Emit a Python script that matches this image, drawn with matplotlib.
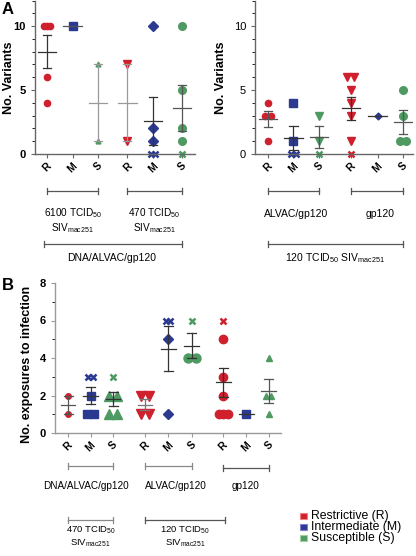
import matplotlib
matplotlib.use("Agg")
import matplotlib.pyplot as plt
from matplotlib.ticker import MultipleLocator
from matplotlib.patches import Rectangle
import numpy as np

plt.rcParams['font.family'] = ['Liberation Sans', 'DejaVu Sans']
plt.rcParams['mathtext.fontset'] = 'custom'
plt.rcParams['mathtext.rm'] = 'Liberation Sans'
plt.rcParams['mathtext.it'] = 'Liberation Sans:italic'
plt.rcParams['mathtext.bf'] = 'Liberation Sans:bold'

RED = '#d0202e'
BLUE = '#2b3990'
GREEN = '#4e9a62'

cats = ['R', 'M', 'S']

# Panel A left: number of variants (filled markers) and zero-variant animals (x)
a6100_r = [10, 10, 10, 6, 4]
a6100_m = [10]
a6100_s = [7, 1]
a470_r = [7, 1]
a470_m = [10, 2, 1]
a470_m_x = [0, 0]
a470_s = [10, 5, 2, 1]
a470_s_x = [0]

# Panel A right
alv_r = [4, 3, 3, 1]
alv_m = [4, 1]
alv_m_x = [0, 0]
alv_s = [3, 1]
alv_s_x = [0]
gp_r = [6, 6, 5, 4, 3, 1]
gp_r_x = [0]
gp_m = [3]
gp_s = [5, 3, 1, 1]

# Panel B: exposures to infection
b_dna_r = [2, 1]
b_dna_m = [2, 1, 1]
b_dna_m_x = [3, 3]
b_dna_s = [2, 2, 1, 1]
b_dna_s_x = [3]
b_alv_r = [2, 2, 1, 1]
b_alv_m = [5, 1]
b_alv_m_x = [6, 6]
b_alv_s = [4, 4]
b_alv_s_x = [6]
b_gp_r = [5, 3, 2, 1, 1, 1]
b_gp_r_x = [6]
b_gp_m = [1]
b_gp_s = [4, 2, 2, 1]

legend_labels = ['Restrictive (R)', 'Intermediate (M)', 'Susceptible (S)']

fig = plt.figure(figsize=(4.16, 5.56), dpi=100)


def draw_group(ax, pos, vals, xvals, color, marker, ms, ecol, upx, mw=0.36, cw=0.16):
    allv = np.array(vals + xvals, dtype=float)
    n = len(allv)
    mean = allv.mean()
    # points, spread sideways when values repeat
    for group, mk, size in ((vals, marker, ms), (xvals, 'x', 4)):
        arr = np.array(group, dtype=float)
        for v in np.unique(arr):
            k = int((arr == v).sum())
            step = size * 1.39 * 0.85 / upx
            if k >= 3:
                step *= 0.65
            offs = (np.arange(k) - (k - 1) / 2) * step
            if mk == 'x':
                ax.plot(pos + offs, [v] * k, 'x', color=color, ms=size, mew=1.8,
                        clip_on=False, zorder=2)
            else:
                ax.plot(pos + offs, [v] * k, marker=mk, ls='none', color=color,
                        ms=size, mec=color, clip_on=False, zorder=2)
    ax.plot([pos - mw, pos + mw], [mean, mean], color=ecol, lw=0.9, zorder=3)
    if n > 1:
        sem = allv.std(ddof=1) / np.sqrt(n)
        ax.plot([pos, pos], [mean - sem, mean + sem], color=ecol, lw=0.9, zorder=3)
        for y in (mean - sem, mean + sem):
            ax.plot([pos - cw, pos + cw], [y, y], color=ecol, lw=0.9, zorder=3)


def style_axis(ax, positions, spine_col, major, minor):
    for s in ('top', 'right'):
        ax.spines[s].set_visible(False)
    for s in ('left', 'bottom'):
        ax.spines[s].set_color(spine_col)
        ax.spines[s].set_linewidth(1.0)
    ax.yaxis.set_major_locator(MultipleLocator(major))
    ax.yaxis.set_minor_locator(MultipleLocator(minor))
    ax.set_xticks(positions)
    ax.set_xticklabels(cats * (len(positions) // 3), rotation=45, ha='center',
                       fontsize=7.5, fontweight='bold')
    ax.tick_params(axis='both', colors=spine_col, labelcolor='black', width=0.8)
    ax.tick_params(axis='y', which='major', length=3, labelsize=8)
    ax.tick_params(axis='y', which='minor', length=2)
    ax.tick_params(axis='x', length=3, pad=2)


def bracket(ax, x0, x1, y, col='#555555'):
    tr = ax.get_xaxis_transform()
    ax.plot([x0, x1], [y, y], color=col, lw=0.9, transform=tr, clip_on=False)
    for x in (x0, x1):
        ax.plot([x, x], [y - 0.02, y + 0.02], color=col, lw=0.9, transform=tr,
                clip_on=False)


def label(ax, x, y, s, size=7.5):
    ax.text(x, y, s, transform=ax.get_xaxis_transform(), ha='center', va='center',
            fontsize=size)


W, H = 416.0, 556.0

# ---------- Panel A left ----------
posA = [0, 1, 2, 3.15, 4.15, 5.3]
axA1 = fig.add_axes([35 / W, (H - 154) / H, 160 / W, 153.5 / H])
axA1.set_xlim(-0.47, 5.8)
axA1.set_ylim(0, 12)
u = 25.5
draw_group(axA1, posA[0], a6100_r, [], RED, 'o', 4.5, '#333333', u)
draw_group(axA1, posA[1], a6100_m, [], BLUE, 's', 6, '#555555', u)
draw_group(axA1, posA[2], a6100_s, [], GREEN, '^', 3.5, '#999999', u)
draw_group(axA1, posA[3], a470_r, [], RED, 'v', 5.5, '#999999', u)
draw_group(axA1, posA[4], a470_m, a470_m_x, BLUE, 'D', 5, '#333333', u)
draw_group(axA1, posA[5], a470_s, a470_s_x, GREEN, 'o', 5.5, '#555555', u)
style_axis(axA1, posA, '#666666', 5, 1)
axA1.set_yticks([0, 5, 10])
for t in axA1.get_yticklabels():
    t.set_fontweight('bold')
axA1.set_ylabel('No. Variants', fontsize=9, fontweight='bold')
axA1.yaxis.set_label_coords(-0.125, 0.5)
bracket(axA1, posA[0], posA[2], -0.241)
bracket(axA1, posA[3], posA[5], -0.241)
label(axA1, 1, -0.385, r'6100 TCID$_{50}$', 7.2)
label(axA1, 1, -0.48, r'SIV$_{\mathrm{mac251}}$', 7.2)
label(axA1, 4.2, -0.385, r'470 TCID$_{50}$', 7.2)
label(axA1, 4.2, -0.48, r'SIV$_{\mathrm{mac251}}$', 7.2)
bracket(axA1, -0.1, posA[5], -0.586)
label(axA1, 2.55, -0.677, 'DNA/ALVAC/gp120')

# ---------- Panel A right ----------
posA2 = [0, 1, 2, 3.25, 4.3, 5.3]
axA2 = fig.add_axes([255 / W, (H - 154) / H, 158 / W, 153.5 / H])
axA2.set_xlim(-0.51, 5.69)
axA2.set_ylim(0, 12)
draw_group(axA2, posA2[0], alv_r, [], RED, 'o', 4.5, '#555555', u)
draw_group(axA2, posA2[1], alv_m, alv_m_x, BLUE, 's', 5.5, '#333333', u)
draw_group(axA2, posA2[2], alv_s, alv_s_x, GREEN, 'v', 5.5, '#555555', u)
draw_group(axA2, posA2[3], gp_r, gp_r_x, RED, 'v', 6, '#333333', u)
draw_group(axA2, posA2[4], gp_m, [], BLUE, 'D', 3.5, '#333333', u)
draw_group(axA2, posA2[5], gp_s, [], GREEN, 'o', 5.5, '#555555', u)
style_axis(axA2, posA2, '#666666', 5, 1)
axA2.set_yticks([0, 5, 10])
axA2.set_ylabel('No. Variants', fontsize=9, fontweight='bold')
axA2.yaxis.set_label_coords(-0.18, 0.5)
bracket(axA2, posA2[0], posA2[2], -0.241)
bracket(axA2, posA2[3], posA2[5], -0.241)
label(axA2, 1.1, -0.39, 'ALVAC/gp120')
label(axA2, 4.4, -0.39, 'gp120')
bracket(axA2, posA2[0], posA2[5], -0.586)
label(axA2, 2.65, -0.677, r'120 TCID$_{50}$ SIV$_{\mathrm{mac251}}$')

# ---------- Panel B ----------
posB = [0, 1, 2, 3.42, 4.45, 5.5, 6.9, 7.92, 8.92]
axB = fig.add_axes([55 / W, (H - 433) / H, 226 / W, 150 / H])
axB.set_xlim(-0.58, 9.47)
axB.set_ylim(0, 8)
ub = 22.5
draw_group(axB, posB[0], b_dna_r, [], RED, 'o', 4, '#555555', ub, 0.33, 0.2)
draw_group(axB, posB[1], b_dna_m, b_dna_m_x, BLUE, 's', 6, '#333333', ub, 0.33, 0.2)
draw_group(axB, posB[2], b_dna_s, b_dna_s_x, GREEN, '^', 6.5, '#333333', ub, 0.33, 0.2)
draw_group(axB, posB[3], b_alv_r, [], RED, 'v', 6.5, '#777777', ub, 0.33, 0.2)
draw_group(axB, posB[4], b_alv_m, b_alv_m_x, BLUE, 'D', 5.5, '#333333', ub, 0.33, 0.2)
draw_group(axB, posB[5], b_alv_s, b_alv_s_x, GREEN, 'o', 6.5, '#333333', ub, 0.33, 0.2)
draw_group(axB, posB[6], b_gp_r, b_gp_r_x, RED, 'o', 6, '#333333', ub, 0.33, 0.2)
draw_group(axB, posB[7], b_gp_m, [], BLUE, 's', 6, '#333333', ub, 0.33, 0.2)
draw_group(axB, posB[8], b_gp_s, [], GREEN, '^', 4, '#555555', ub, 0.33, 0.2)
style_axis(axB, posB, '#999999', 2, 1)
for t in axB.get_yticklabels():
    t.set_fontweight('bold')
axB.set_ylabel('No. exposures to infection', fontsize=9, fontweight='bold')
axB.yaxis.set_label_coords(-0.097, 0.46)
bracket(axB, posB[0], posB[2], -0.22, '#888888')
bracket(axB, posB[3], posB[5], -0.22, '#888888')
bracket(axB, posB[6], posB[8], -0.235, '#555555')
label(axB, 0.8, -0.353, 'DNA/ALVAC/gp120', 7.2)
label(axB, 4.8, -0.353, 'ALVAC/gp120', 7.2)
label(axB, 7.9, -0.353, 'gp120', 7.2)
bracket(axB, posB[0], posB[2], -0.58, '#888888')
bracket(axB, posB[3], posB[6] + 0.1, -0.58, '#555555')
label(axB, 1, -0.65, r'470 TCID$_{50}$', 6.8)
label(axB, 1, -0.735, r'SIV$_{\mathrm{mac251}}$', 6.8)
label(axB, 5.2, -0.65, r'120 TCID$_{50}$', 6.8)
label(axB, 5.2, -0.735, r'SIV$_{\mathrm{mac251}}$', 6.8)

# panel letters
fig.text(2 / W, 1 - 9 / H, 'A', fontsize=12, fontweight='bold', va='center')
fig.text(2 / W, 1 - 286 / H, 'B', fontsize=12, fontweight='bold', va='center')

# legend drawn by hand: colour squares and labels
edge_cols = ['#f08080', '#8080d0', '#a0d0a0']
for i, (c, ec, txt) in enumerate(zip([RED, BLUE, GREEN], edge_cols, legend_labels)):
    yc = 516 + 11 * i
    fig.patches.append(Rectangle((300 / W, 1 - (yc + 3.2) / H), 6.5 / W, 6.5 / H,
                                 facecolor=c, edgecolor=ec, lw=0.8,
                                 transform=fig.transFigure, figure=fig))
    fig.text(311 / W, 1 - yc / H, txt, fontsize=8.8, va='center', ha='left')

fig.savefig('out.png', dpi=100)
